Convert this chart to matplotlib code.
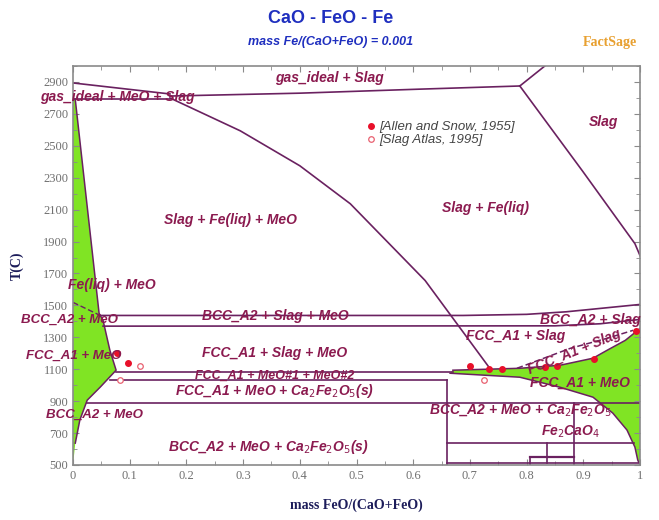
import matplotlib
matplotlib.use("Agg")
import matplotlib.pyplot as plt
from matplotlib.ticker import MultipleLocator, FuncFormatter

LINE = "#6a2160"
LABEL = "#8b1a4f"
GREEN = "#80e424"
AXIS = "#8a8a8a"

# MeO single-phase field, CaO-rich side (x, T)
left_meo_x = [0.0, 0.004, 0.046, 0.053, 0.065, 0.076, 0.048, 0.025, 0.012, 0.004, 0.0]
left_meo_t = [2790, 2790, 1450, 1406, 1219, 1094, 988, 906, 781, 637, 500]

# MeO single-phase field, FeO-rich side: upper edge then lower edge
right_up_x = [0.670, 0.788, 0.859, 0.917, 0.942, 0.974, 0.996, 1.0]
right_up_t = [1094, 1106, 1125, 1169, 1219, 1281, 1344, 1356]
right_lo_x = [0.665, 0.788, 0.859, 0.917, 0.952, 0.977, 0.991, 0.996, 1.0]
right_lo_t = [1075, 1050, 987, 925, 825, 719, 612, 531, 500]

# phase boundaries
gas_left_x, gas_left_t = [0.0, 0.171], [2894, 2825]
gas_meo_x, gas_meo_t = [0.0, 0.171], [2794, 2794]
gas_slag_x = [0.171, 0.40, 0.61, 0.788]
gas_slag_t = [2812, 2830, 2855, 2875]
gas_top_x, gas_top_t = [0.788, 0.832], [2875, 3000]
slag_liq_x = [0.788, 0.899, 0.991, 1.0]
slag_liq_t = [2875, 2340, 1887, 1812]
meo_liq_x = [0.171, 0.295, 0.400, 0.489, 0.621, 0.735]
meo_liq_t = [2800, 2594, 2375, 2137, 1656, 1106]
bcc_top_x = [0.048, 0.688, 0.80, 0.87, 1.0]
bcc_top_t = [1437, 1437, 1444, 1460, 1506]
bcc_bot_x = [0.053, 0.85, 0.93, 1.0]
bcc_bot_t = [1370, 1372, 1385, 1412]
fcc_slag_x = [0.783, 0.877, 0.942, 0.988]
fcc_slag_t = [1106, 1231, 1294, 1344]
feliq_x, feliq_t = [0.0, 0.048], [1519, 1437]

# horizontal invariants (T, x from, x to)
flat_t = [1081, 1031, 887, 637, 512, 550]
flat_x0 = [0.076, 0.065, 0.024, 0.660, 0.660, 0.806]
flat_x1 = [0.670, 0.660, 1.0, 0.990, 0.996, 0.884]
# vertical lines (x, T from, T to)
vert_x = [0.660, 0.836, 0.806, 0.884]
vert_t0 = [1031, 637, 550, 887]
vert_t1 = [500, 512, 500, 500]

# experimental points
allen_x = [0.078, 0.097, 0.700, 0.734, 0.757, 0.832, 0.854, 0.919, 0.993]
allen_t = [1200, 1137, 1119, 1100, 1100, 1112, 1119, 1162, 1337]
atlas_x = [0.118, 0.083, 0.725]
atlas_t = [1119, 1031, 1031]

# text, x, T, rotation, size
labels = [
    ("gas_ideal + Slag", 0.453, 2925, 0, 10),
    ("gas_ideal + MeO + Slag", 0.079, 2806, 0, 10),
    ("Slag", 0.935, 2649, 0, 10),
    ("Slag + Fe(liq) + MeO", 0.277, 2035, 0, 10),
    ("Slag + Fe(liq)", 0.727, 2110, 0, 10),
    ("Fe(liq) + MeO", 0.069, 1628, 0, 10),
    ("BCC_A2 + MeO", -0.006, 1408, 0, 9.5),
    ("BCC_A2 + Slag + MeO", 0.356, 1434, 0, 10),
    ("FCC_A1 + Slag + MeO", 0.356, 1202, 0, 10),
    ("FCC_A1 + MeO", 0.002, 1182, 0, 9.5),
    ("FCC_A1 + MeO#1 + MeO#2", 0.356, 1058, 0, 9),
    ("FCC_A1 + MeO + Ca$_2$Fe$_2$O$_5$(s)", 0.356, 962, 0, 10),
    ("BCC_A2 + MeO", 0.038, 815, 0, 9.5),
    ("BCC_A2 + MeO + Ca$_2$Fe$_2$O$_5$(s)", 0.344, 613, 0, 10),
    ("BCC_A2 + Slag", 0.912, 1409, 0, 10),
    ("FCC_A1 + Slag", 0.780, 1306, 0, 10),
    ("FCC_A1 + Slag", 0.885, 1210, 22, 10),
    ("FCC_A1 + MeO", 0.894, 1014, 0, 10),
    ("BCC_A2 + MeO + Ca$_2$Fe$_2$O$_5$", 0.790, 845, 0, 10),
    ("Fe$_2$CaO$_4$", 0.877, 707, 0, 10),
]

fig = plt.figure(figsize=(6.59, 5.20), dpi=100)
ax = fig.add_axes([0.1108, 0.1058, 0.8604, 0.7672])

ax.fill(left_meo_x, left_meo_t, color=GREEN, lw=0, zorder=1)
ax.fill(right_up_x + right_lo_x[::-1], right_up_t + right_lo_t[::-1],
        color=GREEN, lw=0, zorder=1)
ax.plot(left_meo_x[1:-1], left_meo_t[1:-1], color=LINE, lw=1.1, zorder=2)
ax.plot(right_up_x, right_up_t, color=LINE, lw=1.1, zorder=2)
ax.plot(right_lo_x, right_lo_t, color=LINE, lw=1.1, zorder=2)

for xs, ts in [(gas_left_x, gas_left_t), (gas_meo_x, gas_meo_t), (gas_slag_x, gas_slag_t),
               (gas_top_x, gas_top_t), (slag_liq_x, slag_liq_t), (meo_liq_x, meo_liq_t),
               (bcc_top_x, bcc_top_t), (bcc_bot_x, bcc_bot_t)]:
    ax.plot(xs, ts, color=LINE, lw=1.2, zorder=2)
ax.plot(fcc_slag_x, fcc_slag_t, color=LINE, lw=1.1, ls=(0, (4, 2)), zorder=2)
ax.plot(feliq_x, feliq_t, color=LINE, lw=1.0, ls=(0, (4, 2)), zorder=2)

for t, x0, x1 in zip(flat_t, flat_x0, flat_x1):
    ax.plot([x0, x1], [t, t], color=LINE, lw=1.6 if t == 550 else 1.2, zorder=2)
for x, t0, t1 in zip(vert_x, vert_t0, vert_t1):
    ax.plot([x, x], [t0, t1], color=LINE, lw=1.2, zorder=2)

ax.plot(allen_x, allen_t, "o", ms=4, color="#e8102a", zorder=4, label="[Allen and Snow, 1955]")
ax.plot(atlas_x, atlas_t, "o", ms=4, mfc="white", mec="#e86070", mew=0.9, zorder=4,
        label="[Slag Atlas, 1995]")

for txt, x, t, rot, size in labels:
    ax.text(x, t, txt, color=LABEL, fontsize=size, fontweight="bold", fontstyle="italic",
            family="Liberation Sans", ha="center", va="center", rotation=rot, zorder=5)

leg = ax.legend(loc="upper left", bbox_to_anchor=(0.505, 0.875), frameon=False,
                handletextpad=0.1, handlelength=1.0, borderaxespad=0, labelspacing=0.05,
                prop={"family": "Liberation Sans", "style": "italic", "size": 9.5})
for t in leg.get_texts():
    t.set_color("#444444")

ax.set_xlim(0, 1)
ax.set_ylim(500, 3000)
ax.xaxis.set_major_locator(MultipleLocator(0.1))
ax.xaxis.set_minor_locator(MultipleLocator(0.05))
ax.yaxis.set_minor_locator(MultipleLocator(100))
ax.set_yticks(range(500, 3000, 200))
ax.xaxis.set_major_formatter(FuncFormatter(lambda v, p: "%g" % round(v, 2)))
ax.tick_params(which="both", direction="in", top=True, right=True, color=AXIS,
               labelcolor="#707070", labelsize=9)
ax.tick_params(which="major", length=4)
ax.tick_params(which="minor", length=3)
for lab in ax.get_xticklabels() + ax.get_yticklabels():
    lab.set_family("Liberation Serif")
for s in ax.spines.values():
    s.set_color(AXIS)
    s.set_linewidth(1.2)

ax.set_xlabel("mass FeO/(CaO+FeO)", family="Liberation Serif", fontweight="bold",
              fontsize=10, color="#1c1c5a", labelpad=12)
ax.set_ylabel("T(C)", family="Liberation Serif", fontweight="bold", fontsize=10,
              color="#1c1c5a", labelpad=14)

fig.text(0.501, 0.965, "CaO - FeO - Fe", ha="center", va="center", color="#1f2fbf",
         fontsize=13, fontweight="bold", family="Liberation Sans")
fig.text(0.501, 0.919, "mass Fe/(CaO+FeO) = 0.001", ha="center", va="center",
         color="#1f2fbf", fontsize=9, fontweight="bold", fontstyle="italic",
         family="Liberation Sans")
fig.text(0.925, 0.918, "FactSage", ha="center", va="center", color="#e8a030",
         fontsize=10, fontweight="bold", family="Liberation Serif")

fig.savefig("out.png", dpi=100)
